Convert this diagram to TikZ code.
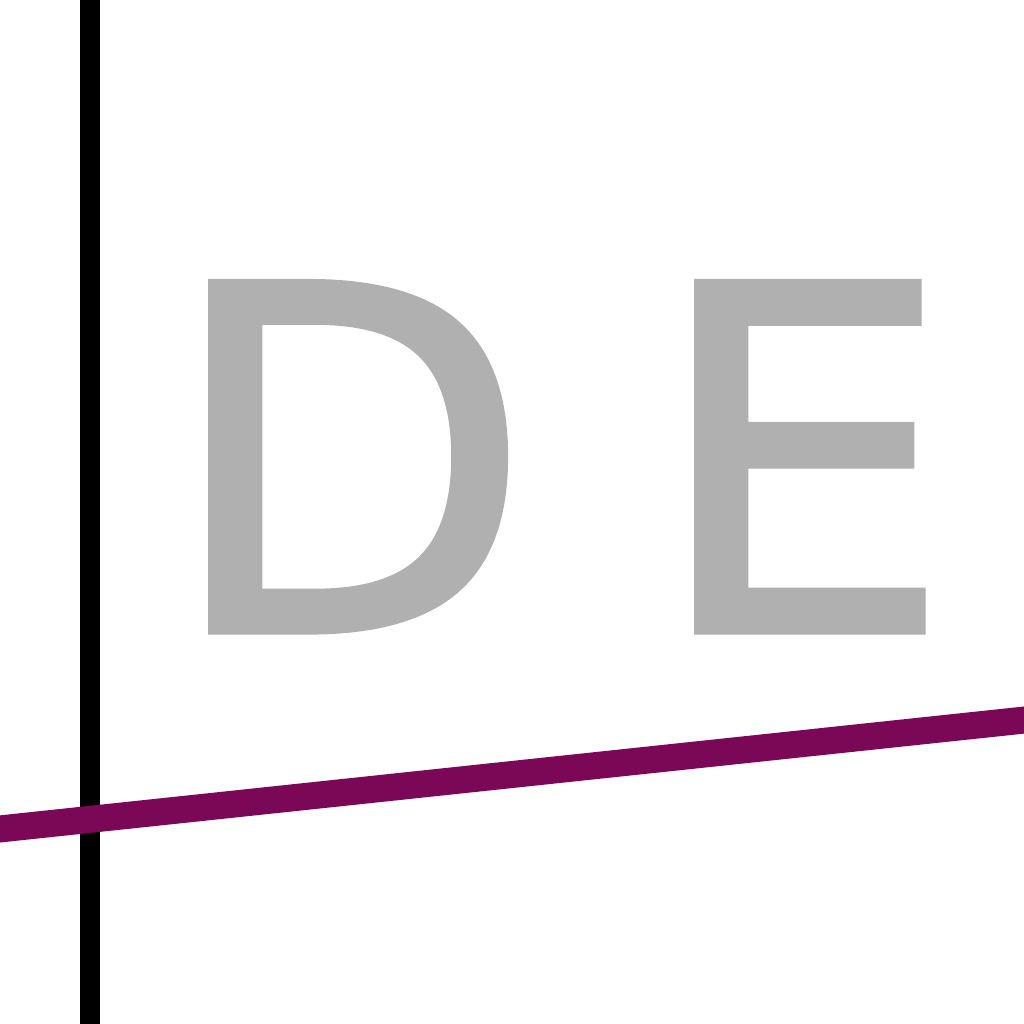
\documentclass[tikz,border=0pt]{standalone}
\usepackage{fontspec}
\setmainfont{DejaVu Sans}
\newfontfamily\thickfont[FakeBold=1.5]{DejaVu Sans}
\definecolor{lettergray}{RGB}{176,176,176}
\definecolor{plum}{RGB}{123,8,87}
\begin{document}
\begin{tikzpicture}[x=1cm,y=1cm,
  letter/.style={inner sep=0pt, anchor=base west, text=lettergray, font=\thickfont\fontsize{136}{136}\selectfont},
  axisline/.style={draw=black, line width=0.2cm},
  plumline/.style={draw=plum, line width=0.27cm}]
\useasboundingbox (0,0) rectangle (10.24,-10.24);
\fill[white] (0,0) rectangle (10.24,-10.24);
\node[letter] (D) at (1.64,-6.31) {D};
\node[letter] (E) at (6.50,-6.31) {E};
\coordinate (vtop) at (0.90,0.1);
\coordinate (vbot) at (0.90,-10.34);
\draw[axisline] (vtop) -- (vbot);
\coordinate (pl) at (-0.1,-8.30);
\coordinate (pr) at (10.34,-7.19);
\draw[plumline] (pl) -- (pr);
\end{tikzpicture}
\end{document}
